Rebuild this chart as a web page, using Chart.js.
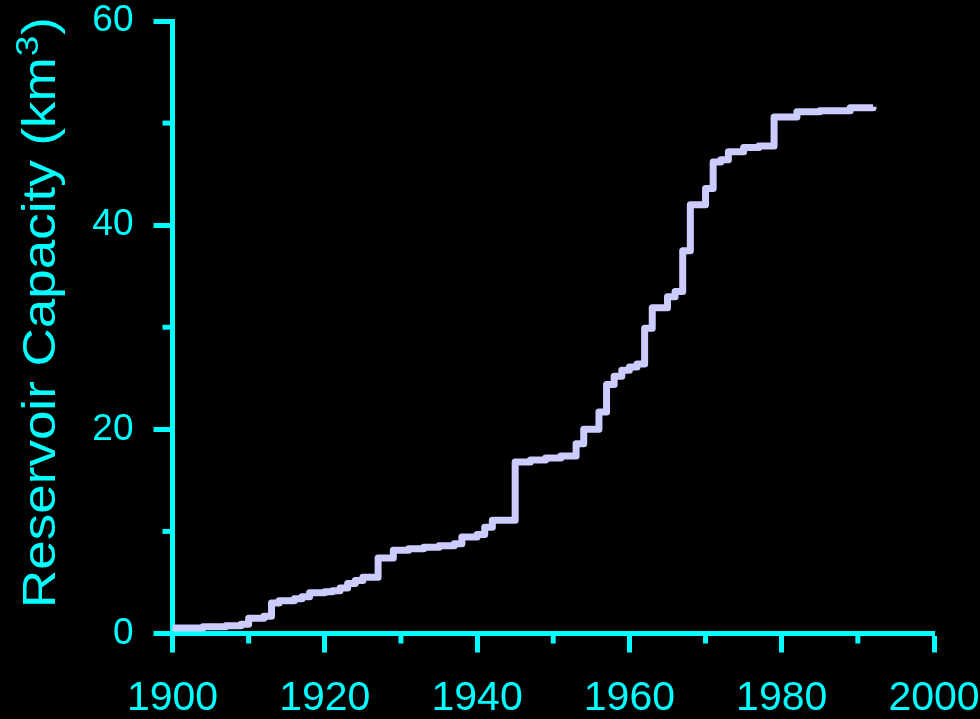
<!DOCTYPE html>
<html>
<head>
<meta charset="utf-8">
<script src="https://cdn.jsdelivr.net/npm/chart.js@4.4.0/dist/chart.umd.min.js"></script>
<style>
html, body { margin: 0; padding: 0; background: #000; }
#wrap { width: 980px; height: 719px; position: relative; }
</style>
</head>
<body>
<div id="wrap"><canvas id="c"></canvas></div>
<script>
// ---- data ----
const years = [1900, 1904, 1907, 1909, 1910, 1912, 1913, 1914, 1916, 1917, 1918, 1920, 1921, 1922, 1923, 1924, 1925, 1927, 1929, 1931, 1933, 1935, 1937, 1938, 1940, 1941, 1942, 1945, 1947, 1949, 1951, 1953, 1954, 1956, 1957, 1958, 1959, 1960, 1961, 1962, 1963, 1965, 1966, 1967, 1968, 1970, 1971, 1972, 1973, 1975, 1977, 1979, 1982, 1985, 1989, 1992];
const capacity = [0.55, 0.65, 0.75, 0.9, 1.5, 1.7, 3.0, 3.2, 3.4, 3.6, 4.0, 4.1, 4.2, 4.45, 4.9, 5.2, 5.5, 7.4, 8.15, 8.3, 8.45, 8.6, 8.8, 9.45, 9.7, 10.4, 11.1, 16.8, 17.0, 17.2, 17.4, 18.6, 20.0, 21.7, 24.4, 25.2, 25.8, 26.1, 26.4, 29.9, 31.9, 33.0, 33.5, 37.5, 42.0, 43.6, 46.2, 46.4, 47.2, 47.6, 47.75, 50.6, 51.1, 51.2, 51.5, 51.6];
const xTickLabels = ['1900', '1920', '1940', '1960', '1980', '2000'];
const yTickLabels = ['0', '20', '40', '60'];
const xMinorTicks = [1910, 1930, 1950, 1970, 1990];
const yMinorTicks = [10, 30, 50];
const yTitleMain = 'Reservoir Capacity (km';
const yTitleSup = '3';
const yTitleEnd = ')';

const CYAN = '#00ffff';
const LINE = '#ccccff';

const decor = {
  id: 'decor',
  afterDraw(chart) {
    const { ctx, scales: { x, y } } = chart;
    const x0 = x.getPixelForValue(1900);
    const y0 = y.getPixelForValue(0);
    ctx.save();
    ctx.strokeStyle = CYAN;
    ctx.lineWidth = 5;
    ctx.lineCap = 'butt';
    xMinorTicks.forEach(v => {
      const px = x.getPixelForValue(v);
      ctx.beginPath(); ctx.moveTo(px, y0); ctx.lineTo(px, y0 + 10); ctx.stroke();
    });
    yMinorTicks.forEach(v => {
      const py = y.getPixelForValue(v);
      ctx.beginPath(); ctx.moveTo(x0, py); ctx.lineTo(x0 - 10, py); ctx.stroke();
    });
    ctx.restore();

    // rotated axis title with superscript (glyphs slightly condensed across)
    ctx.save();
    ctx.fillStyle = CYAN;
    ctx.textAlign = 'left';
    ctx.textBaseline = 'alphabetic';
    ctx.translate(55, 608);
    ctx.rotate(-Math.PI / 2);
    ctx.scale(1, 0.87);
    const big = '53px "Liberation Sans", Arial, sans-serif';
    const small = '37px "Liberation Sans", Arial, sans-serif';
    ctx.font = big;
    ctx.fillText(yTitleMain, 0, 0);
    let w = ctx.measureText(yTitleMain).width;
    ctx.font = small;
    ctx.fillText(yTitleSup, w + 1, -19);
    w += ctx.measureText(yTitleSup).width + 2;
    ctx.font = big;
    ctx.fillText(yTitleEnd, w, 0);
    ctx.restore();
  }
};

const points = years.map((yr, i) => ({ x: yr, y: capacity[i] }));

new Chart(document.getElementById('c'), {
  type: 'line',
  data: {
    datasets: [{
      data: points,
      stepped: true,
      borderColor: LINE,
      borderWidth: 7,
      borderJoinStyle: 'round',
      pointRadius: 0,
      fill: false
    }]
  },
  options: {
    responsive: true,
    maintainAspectRatio: false,
    animation: false,
    events: [],
    layout: { padding: { top: 21, right: 46, left: 0, bottom: 0 } },
    plugins: { legend: { display: false }, tooltip: { enabled: false } },
    scales: {
      x: {
        type: 'linear',
        min: 1900,
        max: 2000,
        afterFit: s => { s.height = 85.5; s.paddingLeft = 0; s.paddingRight = 0; },
        border: { display: true, color: CYAN, width: 5 },
        grid: {
          drawOnChartArea: false,
          tickLength: 19,
          tickWidth: 5,
          tickColor: c => xTickLabels.includes(String(c.tick && c.tick.value)) ? CYAN : 'rgba(0,0,0,0)'
        },
        ticks: {
          stepSize: 10,
          autoSkip: false,
          maxRotation: 0,
          padding: 22,
          color: CYAN,
          font: { family: '"Liberation Sans Narrow", "Liberation Sans", Arial, sans-serif', size: 41 },
          callback: v => xTickLabels.includes(String(v)) ? String(v) : ''
        }
      },
      y: {
        type: 'linear',
        min: 0,
        max: 60,
        afterFit: s => { s.width = 172.5; s.paddingTop = 0; s.paddingBottom = 0; },
        border: { display: true, color: CYAN, width: 5 },
        grid: {
          drawOnChartArea: false,
          tickLength: 19,
          tickWidth: 5,
          tickColor: c => yTickLabels.includes(String(c.tick && c.tick.value)) ? CYAN : 'rgba(0,0,0,0)'
        },
        ticks: {
          stepSize: 10,
          autoSkip: false,
          padding: 20,
          color: CYAN,
          font: { family: '"Liberation Sans", Arial, sans-serif', size: 37, lineHeight: 1 },
          callback: v => yTickLabels.includes(String(v)) ? String(v) : ''
        }
      }
    }
  },
  plugins: [decor]
});
</script>
</body>
</html>
